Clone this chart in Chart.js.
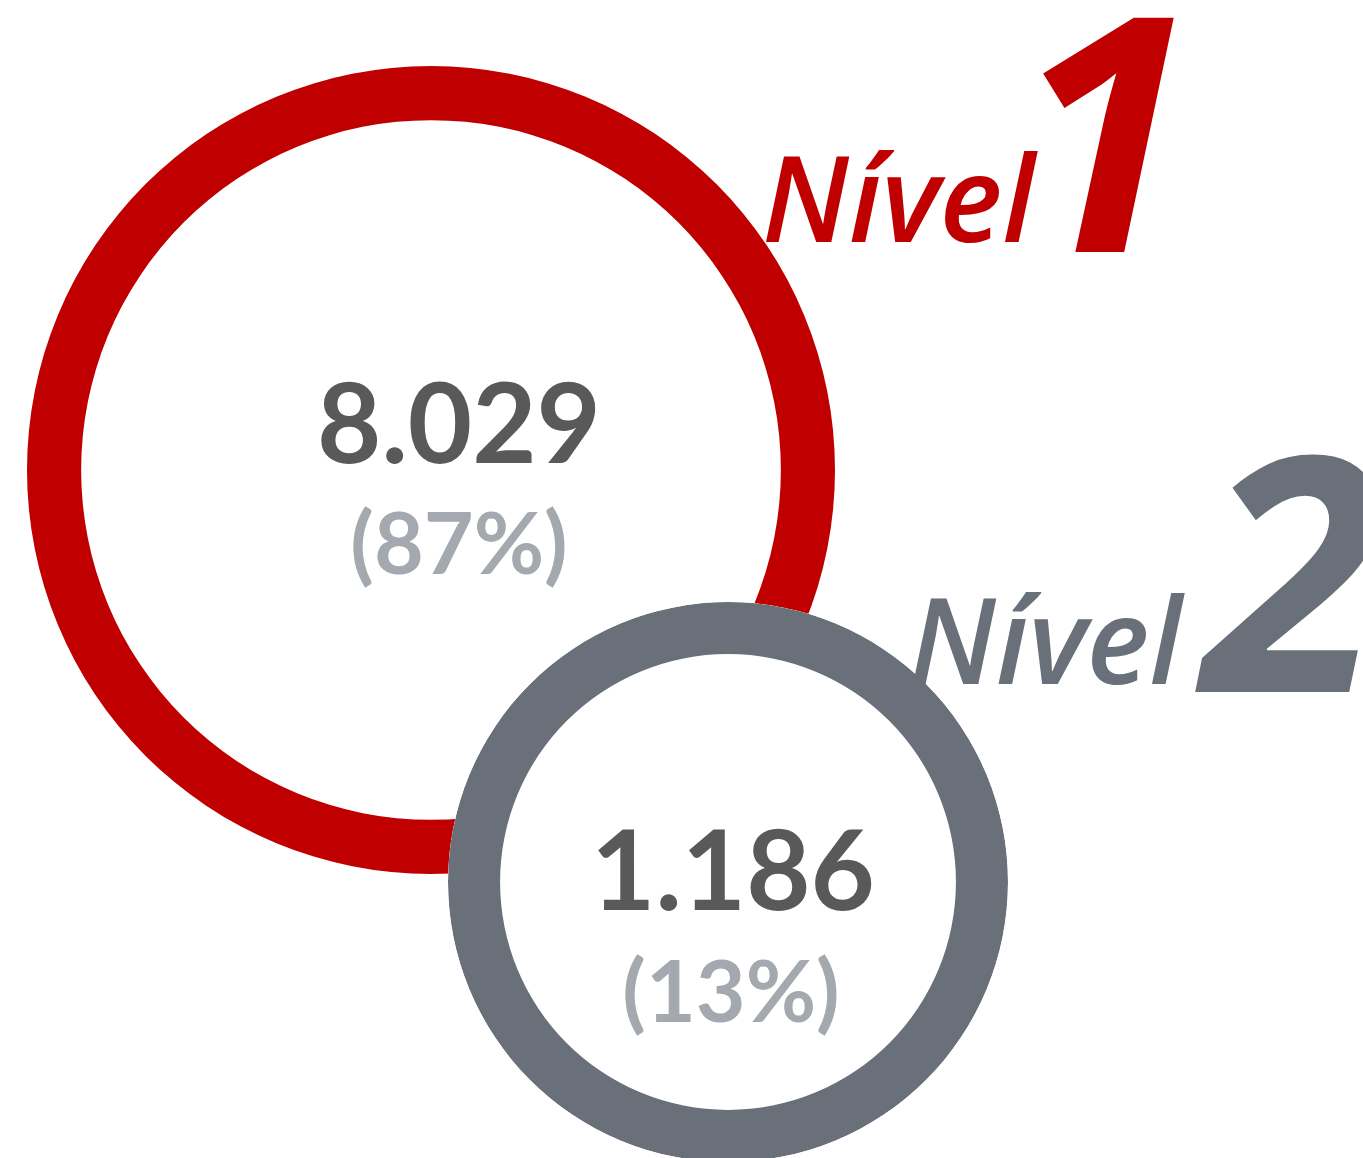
<!DOCTYPE html>
<html lang="pt-BR">
<head>
<meta charset="utf-8">
<title>Níveis</title>
<script src="https://cdn.jsdelivr.net/npm/chart.js@4/dist/chart.umd.min.js"></script>
<style>
  html, body {
    margin: 0;
    padding: 0;
    background: #fff;
  }
  body {
    width: 1363px;
    height: 1158px;
    overflow: hidden;
    position: relative;
    font-family: Lato, "Open Sans", sans-serif;
  }
  canvas { position: absolute; }
  #ring1 { left: 27px; top: 66px; }
  /* white disc so the second ring hides the first one where they overlap */
  #ring2 { left: 448px; top: 602px; background: #fff; border-radius: 50%; }
  .txt {
    position: absolute;
    line-height: 1;
    white-space: nowrap;
    font-weight: 700;
  }
  .num { font-size: 111px; color: #595959; transform: translateX(-50%); }
  .pct { font-size: 86px; color: #a4a9af; transform: translateX(-50%); }
  .lvl { font-family: "Open Sans", Lato, sans-serif; font-style: italic; font-weight: 600; font-size: 119px; }
  .big { font-family: "Open Sans", Lato, sans-serif; font-style: italic; font-weight: 700; font-size: 328px; }
</style>
</head>
<body>
<canvas id="ring1" width="808" height="808"></canvas>
<canvas id="ring2" width="560" height="560"></canvas>

<div class="txt num" id="num1" style="left:459px; top:365px;"></div>
<div class="txt pct" id="pct1" style="left:459px; top:498px;"></div>
<div class="txt num" id="num2" style="left:733px; top:812px;"></div>
<div class="txt pct" id="pct2" style="left:731px; top:946px;"></div>

<div class="txt lvl" id="lvl1" style="left:762px; top:137px;"></div>
<div class="txt big" id="big1" style="left:1014px; top:-39px;"></div>
<div class="txt lvl" id="lvl2" style="left:909px; top:579px;"></div>
<div class="txt big" id="big2" style="left:1203px; top:401px;"></div>

<script>
// Data
const levelNames = ["Nível", "Nível"]
const levelNumbers = ["1", "2"]
const levelValues = [8029, 1186]
const levelShares = [87, 13]   // percent of total

const ringColors = ["#c00000", "#6a7079"]
const ringCutouts = ["86.6%", "81.4%"]

// 8029 -> "8.029"
function formatThousands(n) {
  return String(n).replace(/\B(?=(\d{3})+(?!\d))/g, ".")
}

function drawRing(canvasId, i) {
  return new Chart(document.getElementById(canvasId), {
    type: 'doughnut',
    data: {
      labels: [levelNames[i] + " " + levelNumbers[i]],
      datasets: [{
        data: [levelValues[i]],
        backgroundColor: ringColors[i],
        borderWidth: 0,
        hoverOffset: 0
      }]
    },
    options: {
      responsive: false,
      animation: false,
      cutout: ringCutouts[i],
      events: [],
      layout: { padding: 0 },
      plugins: {
        legend: { display: false },
        tooltip: { enabled: false }
      }
    }
  })
}

drawRing("ring1", 0)
drawRing("ring2", 1)

// Labels
for (let i = 0; i < levelValues.length; i++) {
  const n = i + 1
  document.getElementById("num" + n).textContent = formatThousands(levelValues[i])
  document.getElementById("pct" + n).textContent = "(" + levelShares[i] + "%)"
  document.getElementById("lvl" + n).textContent = levelNames[i]
  document.getElementById("big" + n).textContent = levelNumbers[i]
  document.getElementById("lvl" + n).style.color = ringColors[i]
  document.getElementById("big" + n).style.color = ringColors[i]
}
</script>
</body>
</html>
